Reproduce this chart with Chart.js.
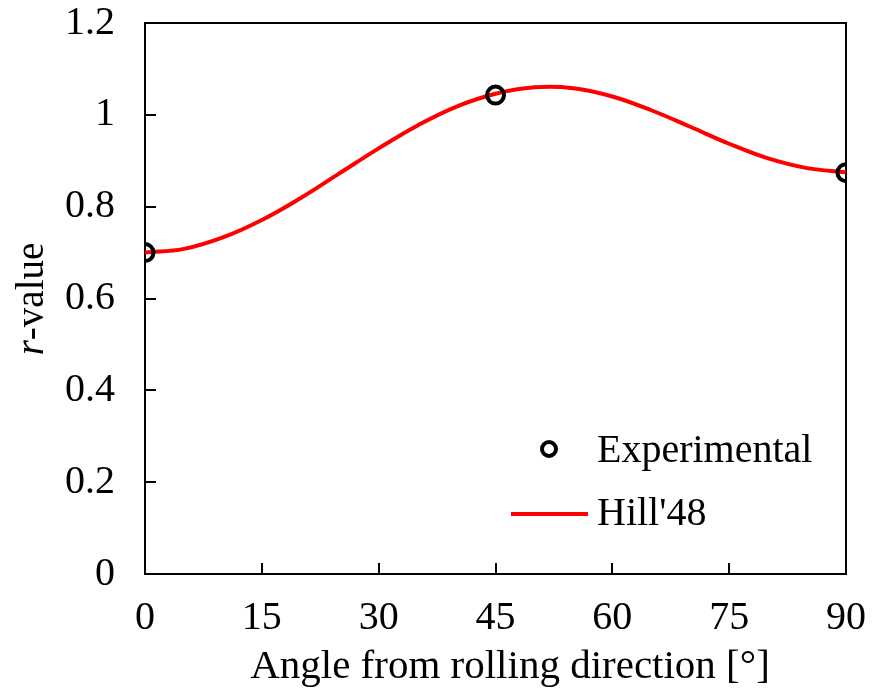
<!DOCTYPE html>
<html>
<head>
<meta charset="utf-8">
<script src="https://cdn.jsdelivr.net/npm/chart.js@4.4.1/dist/chart.umd.min.js"></script>
<style>
  html, body { margin: 0; padding: 0; background: #fff; }
  #wrap { width: 883px; height: 689px; }
</style>
</head>
<body>
<div id="wrap"><canvas id="rChart" width="883" height="689"></canvas></div>
<script>
// data
const hillAngles = [0, 5, 10, 15, 20, 25, 30, 35, 40, 45, 50, 55, 60, 65, 70, 75, 80, 85, 90];
const hillR = [0.700, 0.708, 0.733, 0.771, 0.819, 0.873, 0.927, 0.977, 1.018, 1.046, 1.060, 1.058, 1.040, 1.010, 0.974, 0.937, 0.905, 0.884, 0.875];
const expAngles = [0, 45, 90];
const expR = [0.700, 1.043, 0.874];
const xTickValues = [0, 15, 30, 45, 60, 75, 90];
const yTickValues = [0, 0.2, 0.4, 0.6, 0.8, 1, 1.2];

const serif = '"Liberation Serif", "Times New Roman", serif';

// frame + inward ticks, drawn before the data
const framePlugin = {
    id: 'frame',
    beforeDatasetsDraw(chart) {
        const ctx = chart.ctx;
        const a = chart.chartArea;
        const xs = chart.scales.x, ys = chart.scales.y;
        ctx.save();
        ctx.strokeStyle = '#000';
        ctx.lineWidth = 2;
        ctx.strokeRect(a.left, a.top, a.right - a.left, a.bottom - a.top);
        ctx.beginPath();
        xTickValues.slice(1, -1).forEach(v => {
            const px = Math.round(xs.getPixelForValue(v));
            ctx.moveTo(px, a.bottom);
            ctx.lineTo(px, a.bottom - 11);
        });
        yTickValues.slice(1, -1).forEach(v => {
            const py = Math.round(ys.getPixelForValue(v));
            ctx.moveTo(a.left, py);
            ctx.lineTo(a.left + 11, py);
        });
        ctx.stroke();
        ctx.restore();
    },
    afterDraw(chart) {
        const ctx = chart.ctx;
        ctx.save();
        ctx.fillStyle = '#000';
        // y title with italic r
        ctx.translate(43, 299);
        ctx.rotate(-Math.PI / 2);
        ctx.textBaseline = 'alphabetic';
        ctx.font = 'italic 39px ' + serif;
        const w1 = ctx.measureText('r').width;
        ctx.font = '39px ' + serif;
        const w2 = ctx.measureText('-value').width;
        let x0 = -(w1 + w2) / 2;
        ctx.font = 'italic 39px ' + serif;
        ctx.fillText('r', x0, 0);
        ctx.font = '39px ' + serif;
        ctx.fillText('-value', x0 + w1, 0);
        ctx.restore();

        ctx.save();
        ctx.fillStyle = '#000';
        ctx.font = '41px ' + serif;
        ctx.textAlign = 'center';
        ctx.textBaseline = 'alphabetic';
        ctx.fillText('Angle from rolling direction [\u00b0]', 510, 678);

        // legend
        const ds = chart.data.datasets;
        ctx.font = '40px ' + serif;
        ctx.textAlign = 'left';
        ctx.textBaseline = 'middle';
        ctx.lineWidth = 4;
        ctx.strokeStyle = ds[0].borderColor;
        ctx.beginPath();
        ctx.arc(549, 449, 7, 0, Math.PI * 2);
        ctx.stroke();
        ctx.fillText(ds[0].label, 597, 451);
        ctx.strokeStyle = ds[1].borderColor;
        ctx.beginPath();
        ctx.moveTo(511, 514);
        ctx.lineTo(588, 514);
        ctx.stroke();
        ctx.fillText(ds[1].label, 597, 514);
        ctx.restore();
    }
};

const ctx = document.getElementById('rChart').getContext('2d');
new Chart(ctx, {
    type: 'line',
    data: {
        datasets: [{
            label: 'Experimental',
            data: expAngles.map((a, i) => ({ x: a, y: expR[i] })),
            showLine: false,
            borderColor: '#000',
            backgroundColor: 'rgba(0,0,0,0)',
            pointRadius: 8.5,
            pointBorderWidth: 4,
            pointHoverRadius: 8.5,
            order: 0
        }, {
            label: "Hill'48",
            data: hillAngles.map((a, i) => ({ x: a, y: hillR[i] })),
            borderColor: '#ff0000',
            borderWidth: 4,
            pointRadius: 0,
            tension: 0.4,
            fill: false,
            order: 1
        }]
    },
    options: {
        responsive: false,
        animation: false,
        devicePixelRatio: 1,
        layout: { padding: { top: 23, right: 37, left: 0, bottom: 0 } },
        plugins: {
            legend: { display: false },
            tooltip: { enabled: false }
        },
        scales: {
            x: {
                type: 'linear',
                min: 0,
                max: 90,
                afterBuildTicks: s => { s.ticks = xTickValues.map(v => ({ value: v })); },
                afterFit: s => { s.height = 115; s.paddingLeft = 0; s.paddingRight = 0; },
                grid: { display: false, drawTicks: false },
                border: { display: false },
                ticks: { color: '#000', font: { family: serif, size: 40 }, padding: 20, maxRotation: 0 }
            },
            y: {
                min: 0,
                max: 1.2,
                afterBuildTicks: s => { s.ticks = yTickValues.map(v => ({ value: v })); },
                afterFit: s => { s.width = 145; s.paddingTop = 0; s.paddingBottom = 0; },
                grid: { display: false, drawTicks: false },
                border: { display: false },
                ticks: { color: '#000', font: { family: serif, size: 40 }, padding: 30,
                    callback: v => String(Math.round(v * 10) / 10) }
            }
        }
    },
    plugins: [framePlugin]
});
</script>
</body>
</html>
